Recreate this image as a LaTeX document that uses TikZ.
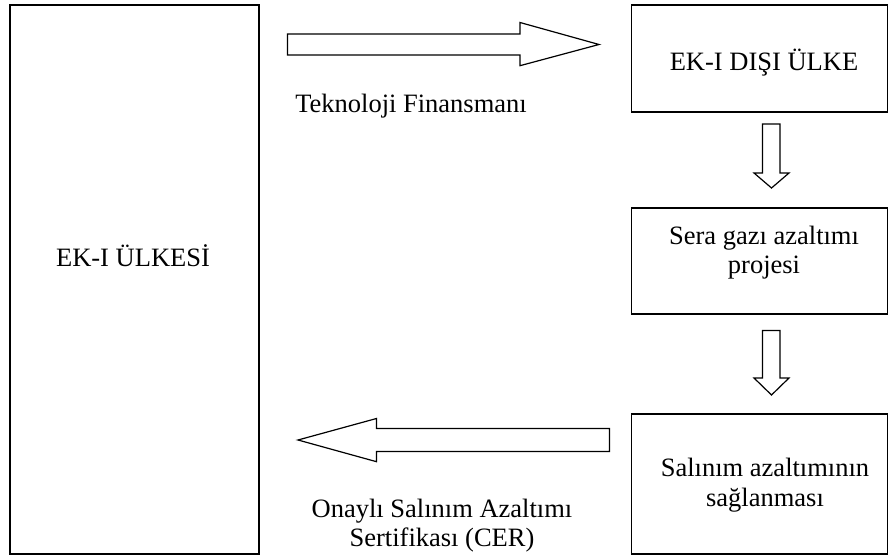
\documentclass[tikz,border=0pt]{standalone}
\usepackage{fontspec}
\setmainfont{Liberation Serif}
\begin{document}
\begin{tikzpicture}[x=1pt,y=-1pt,
  boxst/.style={draw=black, line width=1.2pt, fill=white, inner sep=0pt, outer sep=0pt},
  blockarrow/.style={draw=black, line width=1.2pt, fill=white, line join=miter},
  lbl/.style={font=\fontsize{26.5}{31}\selectfont, inner sep=0pt, anchor=base}]
\useasboundingbox (0,0) rectangle (889,556);
% boxes
\node[boxst, minimum width=249pt, minimum height=549pt] (ekone) at (134.5,279.5) {};
\node[boxst, minimum width=256pt, minimum height=107pt] (nonek) at (759.5,58.5) {};
\node[boxst, minimum width=256pt, minimum height=106pt] (sera) at (759.5,261) {};
\node[boxst, minimum width=256pt, minimum height=140pt] (salinim) at (759.5,484) {};
% texts
\node[lbl] (tekone) at (133,266) {EK-I ÜLKESİ};
\node[lbl] (tnonek) at (764,71) {EK-I DIŞI ÜLKE};
\node[lbl] (tseraA) at (764,244.5) {Sera gazı azaltımı};
\node[lbl] (tseraB) at (764,273.5) {projesi};
\node[lbl] (tsalA) at (765,476.5) {Salınım azaltımının};
\node[lbl] (tsalB) at (765,506.5) {sağlanması};
\node[lbl] (ttek) at (411,113) {Teknoloji Finansmanı};
\node[lbl] (tonayA) at (442,517) {Onaylı Salınım Azaltımı};
\node[lbl] (tonayB) at (442,546.5) {Sertifikası (CER)};
% block arrows
\draw[blockarrow] (287.5,34) -- (520,34) -- (520,22.5) -- (599,44.5) -- (520,65.7) -- (520,55) -- (287.5,55) -- cycle;
\draw[blockarrow] (609.5,428.5) -- (376.5,428.5) -- (376.5,418.5) -- (298,440) -- (376.5,461.7) -- (376.5,451.5) -- (609.5,451.5) -- cycle;
\draw[blockarrow] (762.5,124) -- (780,124) -- (780,173) -- (789,173) -- (771.5,188) -- (754,173) -- (762.5,173) -- cycle;
\draw[blockarrow] (762.5,330.5) -- (780,330.5) -- (780,378) -- (789,378) -- (771.5,395) -- (754,378) -- (762.5,378) -- cycle;
\end{tikzpicture}
\end{document}
